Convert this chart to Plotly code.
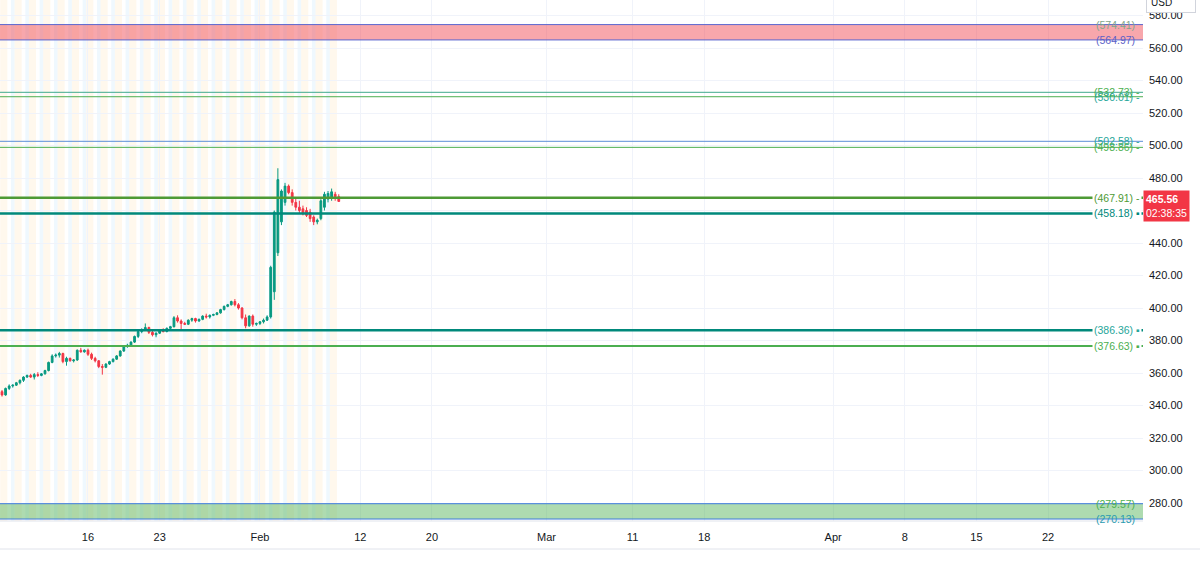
import plotly.graph_objects as go
import pandas as pd

# ---------------- data ----------------
holidays = ["2024-01-15", "2024-02-19", "2024-03-29"]
calendar_start = "2024-01-04"
calendar_end = "2024-04-30"
first_bar_day = "2024-01-05"
last_bar_day = "2024-02-08"
bars_per_day = 4

tick_dates = ["2024-01-16", "2024-01-23", "2024-02-01", "2024-02-12", "2024-02-20",
              "2024-03-01", "2024-03-11", "2024-03-18", "2024-04-01", "2024-04-08",
              "2024-04-15", "2024-04-22"]
tick_labels = ["16", "23", "Feb", "12", "20", "Mar", "11", "18", "Apr", "8", "15", "22"]

opens = [348.5, 346.5, 350.5, 352, 352.5, 354, 355.5, 357.5, 358.5, 357.5, 359, 358.5,
         359.5, 361.5, 366.5, 370.5, 371, 372, 367, 369, 367.5, 368, 374, 373,
         374, 371.5, 369, 367.5, 364, 363.5, 365.5, 367, 368.5, 370.5, 373.5, 376.5,
         377, 379, 382.5, 385.5, 386.5, 388, 385, 383.5, 384.5, 386, 385.5, 387.5,
         388.5, 394, 392, 390.5, 390, 392.5, 393.5, 392, 393, 395, 394.5, 395.5,
         396, 397, 399, 401, 402, 404, 402, 400, 394, 389, 395, 390,
         390.5, 391.5, 392.5, 394.5, 410, 434, 453, 465, 475, 471, 465, 462,
         461, 460, 459, 456, 453, 455, 462, 467, 468, 470, 468.5]
highs = [349.5, 351, 353, 353, 354.5, 356, 358, 359, 359.5, 360, 360.5, 360,
         362, 367, 371.5, 372, 373, 372.5, 370, 369.5, 368.5, 374.5, 375.5, 374.5,
         375, 372.5, 370, 368, 365.5, 366, 367.5, 369, 371, 374, 377, 378,
         379.5, 383, 386, 387.5, 390.5, 388.5, 386, 385, 386.5, 387.5, 388, 389,
         395, 395.5, 393, 391.5, 393, 394, 394, 393.5, 395.5, 396.5, 396, 396.5,
         397.5, 399.5, 401.5, 402.5, 404.5, 405.5, 403, 400.5, 396, 395.5, 396, 391,
         392, 393.5, 395.5, 426, 460, 486, 473, 477, 476, 473, 468, 466,
         463, 462, 461, 457, 455, 467, 471.5, 472, 473.5, 471.5, 470]
lows = [345.5, 346, 349.5, 351, 352, 353, 354.5, 357, 357, 356, 357.5, 358,
        359, 361, 366, 369.5, 369.5, 366, 364.5, 367, 366.5, 367.5, 372.5, 372.5,
        370.5, 368, 366.5, 363, 359, 363, 365, 366.5, 368, 370, 373, 375.5,
        376.5, 378.5, 381.5, 384.5, 386, 384, 382.5, 382, 384, 385, 385, 387,
        388, 391, 386, 389.5, 389.5, 391.5, 391, 391.5, 392.5, 393.5, 393.5, 395,
        395.5, 396.5, 398.5, 400.5, 401.5, 401, 399, 393, 387.5, 388.5, 388.5, 389,
        389.5, 390.5, 392, 393.5, 405, 432, 451, 463, 470, 463, 460, 458,
        457, 456, 453, 451, 451.5, 454, 460, 465, 466, 466, 465.5]
closes = [346.5, 350.5, 352, 352.5, 354, 355.5, 357.5, 358.5, 357.5, 359, 358.5, 359.5,
          361.5, 366.5, 370.5, 371, 372, 367, 369, 367.5, 368, 374, 373, 374,
          371.5, 369, 367.5, 364, 363.5, 365.5, 367, 368.5, 370.5, 373.5, 376.5, 377,
          379, 382.5, 385.5, 386.5, 388, 385, 383.5, 384.5, 386, 385.5, 387.5, 388.5,
          394, 392, 390.5, 390, 392.5, 393.5, 392, 393, 395, 394.5, 395.5, 396,
          397, 399, 401, 402, 404, 402, 400, 394, 389, 395, 390, 390.5,
          391.5, 392.5, 394.5, 425, 459, 479, 472, 475, 471, 465, 462, 460,
          458, 457, 455, 453, 454, 466, 470, 470.5, 471.5, 468.5, 465.56]

level_values = [532.73, 530.01, 502.58, 498.86, 467.91, 458.18, 386.36, 376.63]
level_line_colors = ["#3FA98C", "#4CAF50", "#5A8ED8", "#4CAF50", "#4E9A35", "#00897B", "#00897B", "#4CAF50"]
level_text_colors = ["#4CAF50", "#26A69A", "#26A69A", "#4CAF50", "#4E9A35", "#00897B", "#26A69A", "#4CAF50"]
level_widths = [1, 1, 1, 1, 2.5, 2.5, 2.5, 2]
level_marks = ["-", "-", "-", "-", "-", "▪", "▪", "▪"]
level_label_bg = [False, False, False, False, True, True, True, True]

zone_tops = [574.41, 279.57]
zone_bottoms = [564.97, 270.13]
zone_fills = ["rgba(240,60,70,0.45)", "rgba(76,175,80,0.45)"]
zone_edge_colors = ["#5B67D0", "#3D7BDA"]
zone_top_text_colors = ["#7FA68C", "#4CAF50"]
zone_bottom_text_colors = ["#5B5FC7", "#2A9BB0"]

last_price = 465.56
countdown = "02:38:35"
y_ticks = list(range(280, 600, 20))

# ---------------- derived positions ----------------
cal = [d for d in pd.bdate_range(calendar_start, calendar_end).strftime("%Y-%m-%d") if d not in holidays]
day_idx = {d: i for i, d in enumerate(cal)}
bar_days = cal[day_idx[first_bar_day]: day_idx[last_bar_day] + 1]
xs = []
for d in bar_days:
    for k in range(bars_per_day):
        xs.append(day_idx[d] + k / bars_per_day)
xs = xs[:len(opens)]

tickvals = [day_idx[d] for d in tick_dates]

fig = go.Figure()
fig.add_trace(go.Candlestick(
    x=xs, open=opens, high=highs, low=lows, close=closes,
    increasing=dict(line=dict(color="#089981", width=1), fillcolor="#089981"),
    decreasing=dict(line=dict(color="#F23645", width=1), fillcolor="#F23645"),
    showlegend=False, hoverinfo="skip"))

shapes = []
# session background stripes
half = 0.5 / bars_per_day
for d in bar_days:
    i = day_idx[d]
    present = [x for x in xs if i - 1e-9 <= x < i + 1 - 1e-9]
    shapes.append(dict(type="rect", xref="x", yref="paper", x0=i - half, x1=i + 1 / bars_per_day + half,
                       y0=0, y1=1, fillcolor="rgba(255,152,0,0.07)", line=dict(width=0), layer="below"))
    if len(present) == bars_per_day:
        shapes.append(dict(type="rect", xref="x", yref="paper", x0=i + 3 / bars_per_day - half,
                           x1=i + 3 / bars_per_day + half, y0=0, y1=1,
                           fillcolor="rgba(33,150,243,0.07)", line=dict(width=0), layer="below"))

annotations = []
for top, bot, fc, ec, tc1, tc2 in zip(zone_tops, zone_bottoms, zone_fills, zone_edge_colors,
                                      zone_top_text_colors, zone_bottom_text_colors):
    shapes.append(dict(type="rect", xref="paper", yref="y", x0=0, x1=1, y0=bot, y1=top,
                       fillcolor=fc, line=dict(width=0), layer="above"))
    for v, tc in ((top, tc1), (bot, tc2)):
        shapes.append(dict(type="line", xref="paper", yref="y", x0=0, x1=1, y0=v, y1=v,
                           line=dict(color=ec, width=1)))
        annotations.append(dict(x=1, xref="paper", y=v, yref="y", xanchor="right", yanchor="middle",
                                xshift=-6, text=f"({v:.2f})", showarrow=False,
                                font=dict(size=10.5, color=tc, family="Liberation Sans")))

for v, lc, tc, w, m, bg in zip(level_values, level_line_colors, level_text_colors, level_widths,
                               level_marks, level_label_bg):
    shapes.append(dict(type="line", xref="paper", yref="y", x0=0, x1=1, y0=v, y1=v,
                       line=dict(color=lc, width=w)))
    annotations.append(dict(x=1, xref="paper", y=v, yref="y", xanchor="right", yanchor="middle",
                            xshift=-1, text=f"({v:.2f}) {m}", showarrow=False,
                            bgcolor="white" if bg else "rgba(0,0,0,0)",
                            borderpad=1, font=dict(size=10.5, color=tc, family="Liberation Sans")))

# axis border lines
shapes.append(dict(type="line", xref="paper", yref="paper", x0=0, x1=1, y0=0, y1=0,
                   line=dict(color="#E0E3EB", width=1)))
shapes.append(dict(type="line", xref="paper", yref="paper", x0=0, x1=1.05, y0=-28 / 521, y1=-28 / 521,
                   line=dict(color="#E0E3EB", width=1)))

annotations.append(dict(x=1, xref="paper", y=last_price, yref="y", xanchor="left", yanchor="middle",
                        yshift=-5, xshift=0, align="left",
                        text=f"<b>{last_price:.2f}</b><br>{countdown}", showarrow=False,
                        bgcolor="#F23645", borderpad=2,
                        font=dict(size=10.5, color="white", family="Liberation Sans")))
annotations.append(dict(x=1, xref="paper", y=1, yref="paper", xanchor="left", yanchor="middle",
                        xshift=3, yshift=-2, text="USD", showarrow=False, bgcolor="white",
                        bordercolor="#D1D4DC", borderwidth=1, borderpad=4, width=40, align="left",
                        font=dict(size=10, color="#131722", family="Liberation Sans")))

fig.update_layout(
    width=1200, height=565,
    margin=dict(l=0, r=57, t=0, b=44, autoexpand=False),
    paper_bgcolor="white", plot_bgcolor="white",
    shapes=shapes, annotations=annotations,
    showlegend=False,
    xaxis=dict(range=[0.86, 80.62], tickvals=tickvals, ticktext=tick_labels,
               showgrid=True, gridcolor="#F0F3FA", zeroline=False, showline=False,
               ticks="", ticklabelstandoff=8, rangeslider=dict(visible=False), automargin=False,
               tickfont=dict(size=11, color="#131722", family="Liberation Sans")),
    yaxis=dict(side="right", range=[268.92, 589.54], tickvals=y_ticks,
               ticktext=[f"{v:.2f}" for v in y_ticks],
               showgrid=True, gridcolor="#F0F3FA", zeroline=False, showline=False,
               ticks="", ticklabelstandoff=5, automargin=False,
               tickfont=dict(size=11, color="#131722", family="Liberation Sans")),
)

fig.write_html("out.html", config={"displayModeBar": False},
               post_script="document.body.style.margin='0';document.body.style.overflow='hidden';")
